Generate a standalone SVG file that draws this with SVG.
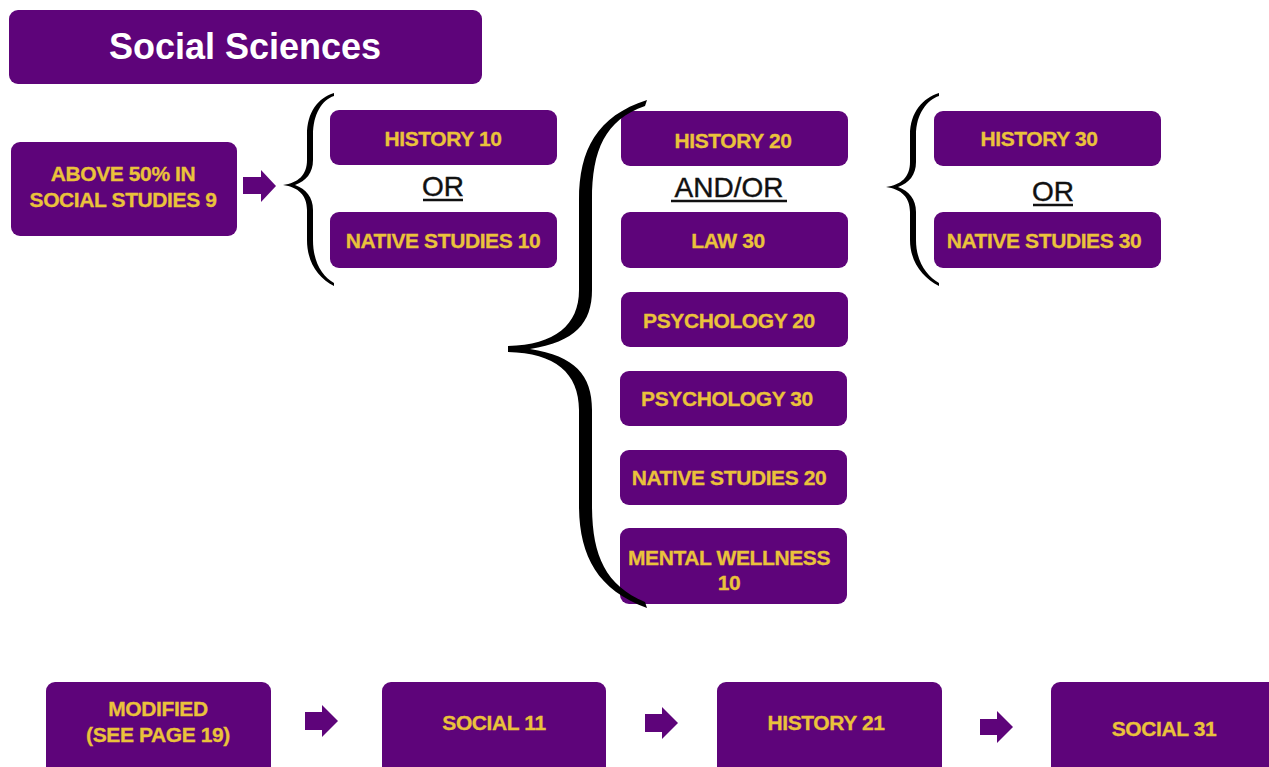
<svg xmlns="http://www.w3.org/2000/svg" width="1269" height="767" viewBox="0 0 1269 767">
  <style>
    .box { fill: #5e047a; }
    .lbl { fill: #eac23b; font-family: "Liberation Sans", Arial, sans-serif; font-weight: bold; font-size: 21px; letter-spacing: -0.4px; text-anchor: middle; dominant-baseline: central; stroke: #eac23b; stroke-width: 0.3; }
    .title { fill: #ffffff; font-family: "Liberation Sans", Arial, sans-serif; font-weight: bold; font-size: 36px; text-anchor: middle; dominant-baseline: central; }
    .conj { fill: #111111; font-family: "Liberation Sans", Arial, sans-serif; font-size: 28px; text-anchor: middle; stroke: #111111; stroke-width: 0.4; }
    .uline { stroke: #111111; stroke-width: 2.5; }
    .brace { fill: #000000; }
    .arrow { fill: #5e047a; }
  </style>
  <rect width="1269" height="767" fill="#ffffff"/>

  <g id="title">
    <rect class="box" x="9" y="10" width="473" height="74" rx="9"/>
    <text class="title" x="245" y="46">Social Sciences</text>
  </g>

  <g id="above50">
    <rect class="box" x="11" y="142" width="226" height="94" rx="9"/>
    <text class="lbl" x="123" y="173">ABOVE 50% IN</text>
    <text class="lbl" x="123" y="199">SOCIAL STUDIES 9</text>
  </g>

  <g id="history10">
    <rect class="box" x="330" y="110" width="227" height="55" rx="9"/>
    <text class="lbl" x="443" y="138">HISTORY 10</text>
  </g>
  <g id="native10">
    <rect class="box" x="330" y="212" width="227" height="56" rx="9"/>
    <text class="lbl" x="443" y="240">NATIVE STUDIES 10</text>
  </g>

  <g id="history20">
    <rect class="box" x="621" y="111" width="227" height="55" rx="9"/>
    <text class="lbl" x="733" y="140">HISTORY 20</text>
  </g>
  <g id="law30">
    <rect class="box" x="621" y="212" width="227" height="56" rx="9"/>
    <text class="lbl" x="728" y="240">LAW 30</text>
  </g>
  <g id="psych20">
    <rect class="box" x="621" y="292" width="227" height="55" rx="9"/>
    <text class="lbl" x="729" y="320">PSYCHOLOGY 20</text>
  </g>
  <g id="psych30">
    <rect class="box" x="620" y="371" width="227" height="55" rx="9"/>
    <text class="lbl" x="727" y="398">PSYCHOLOGY 30</text>
  </g>
  <g id="native20">
    <rect class="box" x="620" y="450" width="227" height="55" rx="9"/>
    <text class="lbl" x="729" y="477">NATIVE STUDIES 20</text>
  </g>
  <g id="wellness10">
    <rect class="box" x="620" y="528" width="227" height="76" rx="9"/>
    <text class="lbl" x="729" y="557">MENTAL WELLNESS</text>
    <text class="lbl" x="729" y="582">10</text>
  </g>

  <g id="history30">
    <rect class="box" x="934" y="111" width="227" height="55" rx="9"/>
    <text class="lbl" x="1039" y="138">HISTORY 30</text>
  </g>
  <g id="native30">
    <rect class="box" x="934" y="212" width="227" height="56" rx="9"/>
    <text class="lbl" x="1044" y="240">NATIVE STUDIES 30</text>
  </g>

  <g id="modified">
    <rect class="box" x="46" y="682" width="225" height="100" rx="9"/>
    <text class="lbl" x="158" y="708">MODIFIED</text>
    <text class="lbl" x="158" y="734">(SEE PAGE 19)</text>
  </g>
  <g id="social11">
    <rect class="box" x="382" y="682" width="224" height="100" rx="9"/>
    <text class="lbl" x="494" y="722">SOCIAL 11</text>
  </g>
  <g id="history21">
    <rect class="box" x="717" y="682" width="225" height="100" rx="9"/>
    <text class="lbl" x="826" y="722">HISTORY 21</text>
  </g>
  <g id="social31">
    <rect class="box" x="1051" y="682" width="240" height="100" rx="9"/>
    <text class="lbl" x="1164" y="728">SOCIAL 31</text>
  </g>

  <g id="conjunctions">
    <text class="conj" x="443" y="196">OR</text>
    <line class="uline" x1="423" y1="200" x2="463" y2="200"/>
    <text class="conj" x="729" y="197">AND/OR</text>
    <line class="uline" x1="671" y1="201" x2="787" y2="201"/>
    <text class="conj" x="1053" y="201">OR</text>
    <line class="uline" x1="1033" y1="205" x2="1073" y2="205"/>
  </g>

  <g id="connectors">
    <!-- block arrows -->
    <path class="arrow" d="M243,177 H261 V170 L276,186 L261,202 V194 H243 Z"/>
    <path class="arrow" d="M305,712 H322 V705 L338,721 L322,737 V730 H305 Z"/>
    <path class="arrow" d="M645,714 H662 V707 L678,723 L662,739 V732 H645 Z"/>
    <path class="arrow" d="M980,719 H997 V711 L1013,727 L997,743 V735 H980 Z"/>
    <!-- small brace before level 10 -->
    <path class="brace" d="M334,93 C318,98 307,112 307,135 L307,160 C307,175 298,183 283,185 C298,187 307,195 307,210 L307,240 C307,262 318,278 334,286 L334,283 C322,276 313,262 313,240 L313,210 C313,197 306,189 295,185 C306,181 313,173 313,160 L313,135 C313,114 322,100 334,96 Z"/>
    <!-- large brace before level 20/30 options -->
    <path class="brace" d="M647,100 C597,116 579,150 579,200 L579,290 C579,325 555,345 508,346 L508,352 C555,353 579,373 579,410 L579,505 C579,555 597,590 647,608 L645,602 C605,585 592,555 592,505 L592,410 C592,375 575,356 530,349 C575,342 592,323 592,290 L592,200 C592,150 605,120 645,106 Z"/>
    <!-- small brace before level 30 -->
    <path class="brace" d="M939,93 C923,98 910,112 910,135 L910,162 C910,177 901,185 886,187 C901,189 910,197 910,212 L910,240 C910,262 923,278 939,286 L939,283 C927,276 916,262 916,240 L916,212 C916,199 909,191 898,187 C909,183 916,175 916,162 L916,135 C916,114 927,100 939,96 Z"/>
  </g>
</svg>
